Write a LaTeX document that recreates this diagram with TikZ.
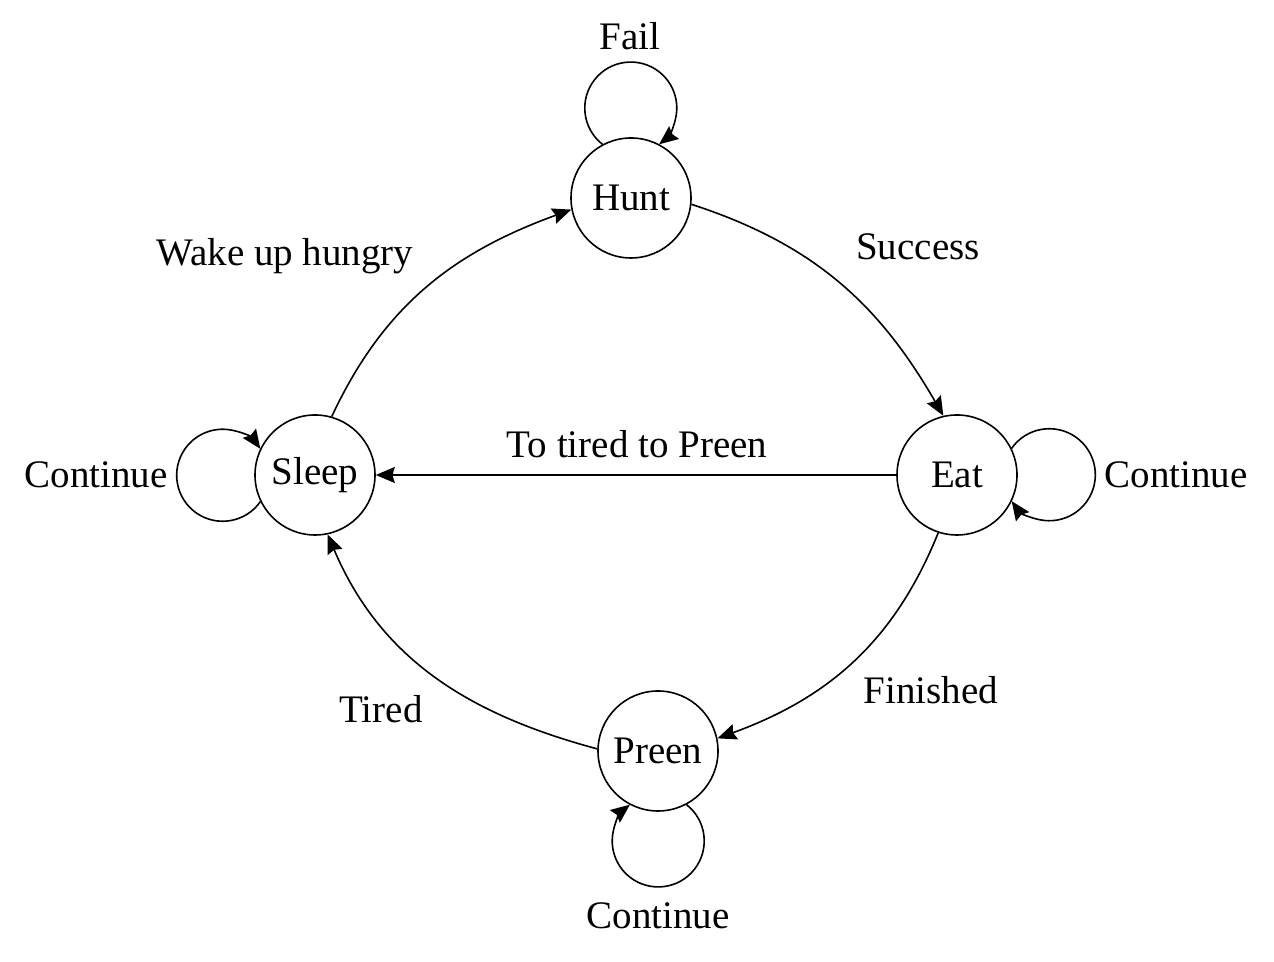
\documentclass[tikz,border=0pt]{standalone}
\usepackage{fontspec}
\setmainfont{Liberation Serif}
\usepackage{tikz}
\usetikzlibrary{arrows.meta,positioning}
\tikzset{
  statenode/.style={circle,draw,line width=0.8pt,minimum size=60pt,inner sep=0pt},
  every node/.style={font=\fontsize{19.5}{23}\selectfont}
}
\tikzstyle{arrow} = [line width=0.8pt,-{Stealth[length=9.5pt,width=8pt,inset=1.2pt]}]

\begin{document}
\begin{tikzpicture}[x=0.5pt,y=0.5pt]
  \useasboundingbox (0,0) rectangle (1274,962);
  \node[statenode] (hunt)  at (631,764) {Hunt};
  \node[statenode] (eat)   at (957,487) {Eat};
  \node[statenode] (sleep) at (315,487) {Sleep};
  \node[statenode] (preen) at (658,211) {Preen};
  % self loops, all clockwise
  \draw[arrow] (hunt.118) arc[start angle=232,end angle=-52,radius=23pt];
  \draw[arrow] (eat.26) arc[start angle=145,end angle=-145,radius=23pt];
  \draw[arrow] (preen.-62) arc[start angle=52,end angle=-232,radius=23pt];
  \draw[arrow] (sleep.206) arc[start angle=-35,end angle=-325,radius=23pt];
  % transitions round the cycle
  \draw[arrow] (hunt.-6) to[out=-18,in=120] (eat.103);
  \draw[arrow] (eat.-108) to[out=-112,in=20] (preen.12);
  \draw[arrow] (preen.178) to[out=165,in=-67] (sleep.-78);
  \draw[arrow] (sleep.74) to[out=65,in=200] (hunt.191);
  \draw[arrow] (eat) -- (sleep);
  % labels
  \node (fail)     at (630,926)  {Fail};
  \node (success)  at (918,715)  {Success};
  \node (wakeup)   at (285,706)  {Wake up hungry};
  \node (tootired) at (637,518)  {To tired to Preen};
  \node (contL)    at (96,487)   {Continue};
  \node (contR)    at (1176,487) {Continue};
  \node (finished) at (931,272)  {Finished};
  \node (tired)    at (381,253)  {Tired};
  \node (contB)    at (658,46)   {Continue};
\end{tikzpicture}
\end{document}
